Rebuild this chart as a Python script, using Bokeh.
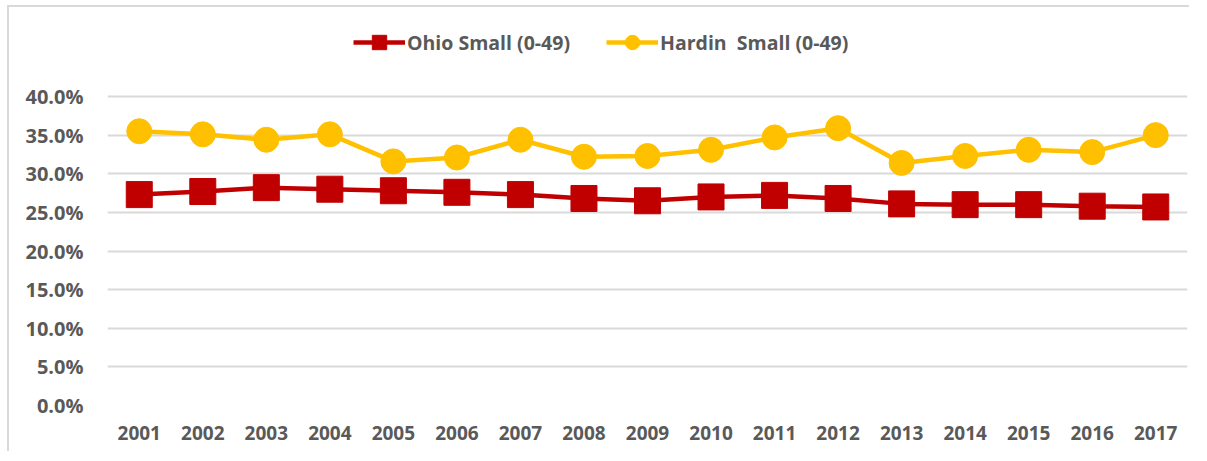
from bokeh.plotting import figure
from bokeh.models import FixedTicker, NumeralTickFormatter, Legend, LegendItem, FactorRange
from bokeh.embed import file_html
from bokeh.resources import INLINE

years = [str(y) for y in range(2001, 2018)]
ohio_small = [27.3, 27.7, 28.2, 28.0, 27.8, 27.6, 27.3, 26.8, 26.5, 27.0, 27.2, 26.8, 26.1, 26.0, 26.0, 25.8, 25.7]
hardin_small = [35.5, 35.1, 34.4, 35.1, 31.6, 32.1, 34.4, 32.2, 32.3, 33.1, 34.7, 35.9, 31.4, 32.3, 33.1, 32.8, 35.0]
y_ticks = [0, 0.05, 0.10, 0.15, 0.20, 0.25, 0.30, 0.35, 0.40]

ohio_frac = [v / 100 for v in ohio_small]
hardin_frac = [v / 100 for v in hardin_small]

RED = "#C00000"
YEL = "#FFC000"
GRAY = "#595959"

# frame extends above the 40% line so the legend (drawn inside the frame) is not clipped
px_per_unit = 309 / 0.40
y_top = 0.40 + (96 - 10) / px_per_unit

p = figure(width=1182, height=446, x_range=FactorRange(*years), y_range=(0, y_top),
           output_backend="svg", toolbar_location=None,
           min_border_left=98, min_border_right=4, min_border_top=3, min_border_bottom=48)
p.outline_line_color = None
p.styles = {"border-left": "2px solid #d9d9d9", "border-top": "2px solid #d9d9d9",
            "margin-left": "7px", "margin-top": "5px"}

r1l = p.line(years, ohio_frac, line_color=RED, line_width=4.5)
r1m = p.scatter(years, ohio_frac, marker="square", size=26, fill_color=RED, line_color=RED)
r2l = p.line(years, hardin_frac, line_color=YEL, line_width=4.5)
r2m = p.scatter(years, hardin_frac, marker="circle", size=25, fill_color=YEL, line_color=YEL)

p.yaxis.ticker = FixedTicker(ticks=y_ticks)
p.yaxis.formatter = NumeralTickFormatter(format="0.0%")
for ax in (p.xaxis[0], p.yaxis[0]):
    ax.axis_line_color = None
    ax.major_tick_line_color = None
    ax.minor_tick_line_color = None
    ax.major_label_text_color = GRAY
    ax.major_label_text_font = "Open Sans"
    ax.major_label_text_font_style = "bold"
p.yaxis.major_label_text_font_size = "20px"
p.yaxis.major_label_standoff = 18
p.xaxis.major_label_text_font_size = "19px"
p.xaxis.major_label_standoff = 14

p.xgrid.grid_line_color = None
p.ygrid.grid_line_color = "#d9d9d9"
p.ygrid.grid_line_width = 2

legend = Legend(items=[LegendItem(label="Ohio Small (0-49)", renderers=[r1l, r1m]),
                       LegendItem(label="Hardin  Small (0-49)", renderers=[r2l, r2m])],
                location=(246, 345), orientation="horizontal",
                glyph_width=52, glyph_height=36, spacing=36, label_standoff=2,
                padding=0, margin=0, border_line_color=None, background_fill_alpha=0,
                label_text_font="Open Sans", label_text_font_style="bold",
                label_text_font_size="19.5px", label_text_color=GRAY)
p.add_layout(legend, "center")

open("out.html", "w").write(file_html(p, INLINE))
